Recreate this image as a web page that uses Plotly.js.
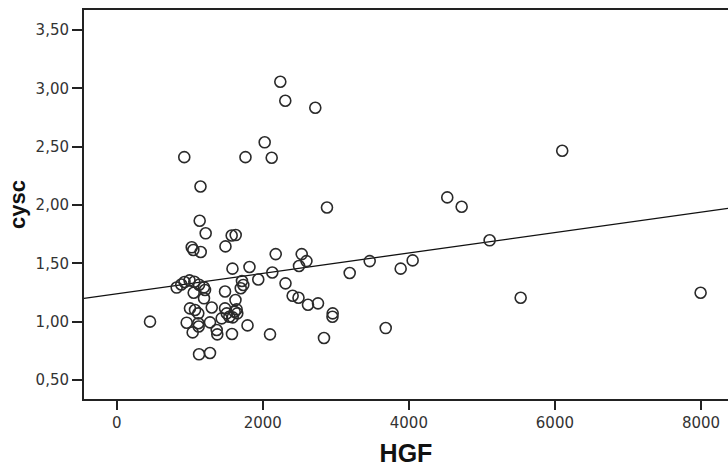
<!DOCTYPE html>
<html>
<head>
<meta charset="utf-8">
<script src="https://cdn.plot.ly/plotly-3.0.1.min.js"></script>
<style>html,body{margin:0;padding:0;background:#fff;}#chart{width:728px;height:467px;}</style>
</head>
<body>
<div id="chart"></div>
<script>
// HGF values (x) and cysc values (y)
const hgf = [456, 925, 1763, 2122, 1147, 2240, 2308, 2719, 2026, 2879,
  6100, 4526, 4723, 5106, 4052, 3888, 5531, 7995, 3683, 3464,
  3190, 2957, 2954, 2838, 2756, 2619, 2489, 2409, 2311, 2598,
  2533, 2177, 2496, 1818, 2130, 1938, 1585, 1715, 1733, 1698,
  1626, 1615, 1651, 1588, 1791, 1578, 2099, 1574, 1629, 1489,
  1136, 1218, 1027, 1049, 1150, 821, 884, 928, 997, 1062,
  1127, 1195, 1054, 1209, 1483, 1195, 1301, 1003, 1072, 1117,
  1483, 1506, 1437, 1542, 958, 1117, 1277, 1040, 1122, 1369,
  1377, 1127, 1277, 1642];
const cysc = [1.00, 2.41, 2.41, 2.405, 2.158, 3.056, 2.893, 2.833, 2.537, 1.978,
  2.465, 2.065, 1.985, 1.697, 1.525, 1.454, 1.205, 1.248, 0.945, 1.519,
  1.417, 1.071, 1.042, 0.860, 1.157, 1.145, 1.205, 1.222, 1.328, 1.519,
  1.579, 1.579, 1.477, 1.468, 1.421, 1.361, 1.454, 1.348, 1.314, 1.286,
  1.185, 1.085, 1.071, 1.037, 0.968, 0.894, 0.891, 1.738, 1.742, 1.645,
  1.865, 1.757, 1.637, 1.614, 1.597, 1.292, 1.318, 1.340, 1.354, 1.342,
  1.316, 1.294, 1.248, 1.271, 1.258, 1.200, 1.121, 1.114, 1.100, 1.071,
  1.114, 1.071, 1.028, 1.042, 0.991, 0.986, 0.994, 0.908, 0.958, 0.928,
  0.891, 0.720, 0.731, 1.105];
// linear fit line
const fitIntercept = 1.239;
const fitSlope = 0.0000874;
// axis settings
const xRange = [-448, 8370];
const yRange = [0.337, 3.671];
const xTicks = [0, 2000, 4000, 6000, 8000];
const yTicks = [0.5, 1.0, 1.5, 2.0, 2.5, 3.0, 3.5];
const yTickText = ["0,50", "1,00", "1,50", "2,00", "2,50", "3,00", "3,50"];

const fitX = xRange.slice();
const fitY = fitX.map(v => fitIntercept + fitSlope * v);

const tickFont = {family: "DejaVu Sans, Arial, sans-serif", size: 15, color: "#333"};

const data = [
  {x: fitX, y: fitY, type: "scatter", mode: "lines", line: {color: "#111", width: 1.3}, hoverinfo: "skip", showlegend: false},
  {x: hgf, y: cysc, type: "scatter", mode: "markers",
   marker: {symbol: "circle-open", size: 11, color: "#2a2a2a", line: {width: 1.6}}, showlegend: false}
];
const layout = {
  width: 728, height: 467,
  margin: {l: 84, r: 0, t: 10, b: 68},
  paper_bgcolor: "#fff", plot_bgcolor: "#fff",
  showlegend: false,
  xaxis: {range: xRange, tickvals: xTicks, ticktext: xTicks.map(String),
    showgrid: false, zeroline: false, showline: true, linecolor: "#222", linewidth: 2,
    mirror: true, ticks: "outside", ticklen: 9, tickwidth: 2, tickcolor: "#222",
    tickfont: tickFont,
    title: {text: "<b>HGF</b>", font: {family: "Liberation Sans, Arial, sans-serif", size: 25, color: "#111"}, standoff: 14}},
  yaxis: {range: yRange, tickvals: yTicks, ticktext: yTickText,
    showgrid: false, zeroline: false, showline: true, linecolor: "#222", linewidth: 2,
    ticks: "outside", ticklen: 10, tickwidth: 2, tickcolor: "#222",
    tickfont: tickFont,
    title: {text: "<b>cysc</b>", font: {family: "Liberation Sans, Arial, sans-serif", size: 22, color: "#111"}, standoff: 4}}
};
Plotly.newPlot("chart", data, layout, {staticPlot: true, displayModeBar: false});
</script>
</body>
</html>
